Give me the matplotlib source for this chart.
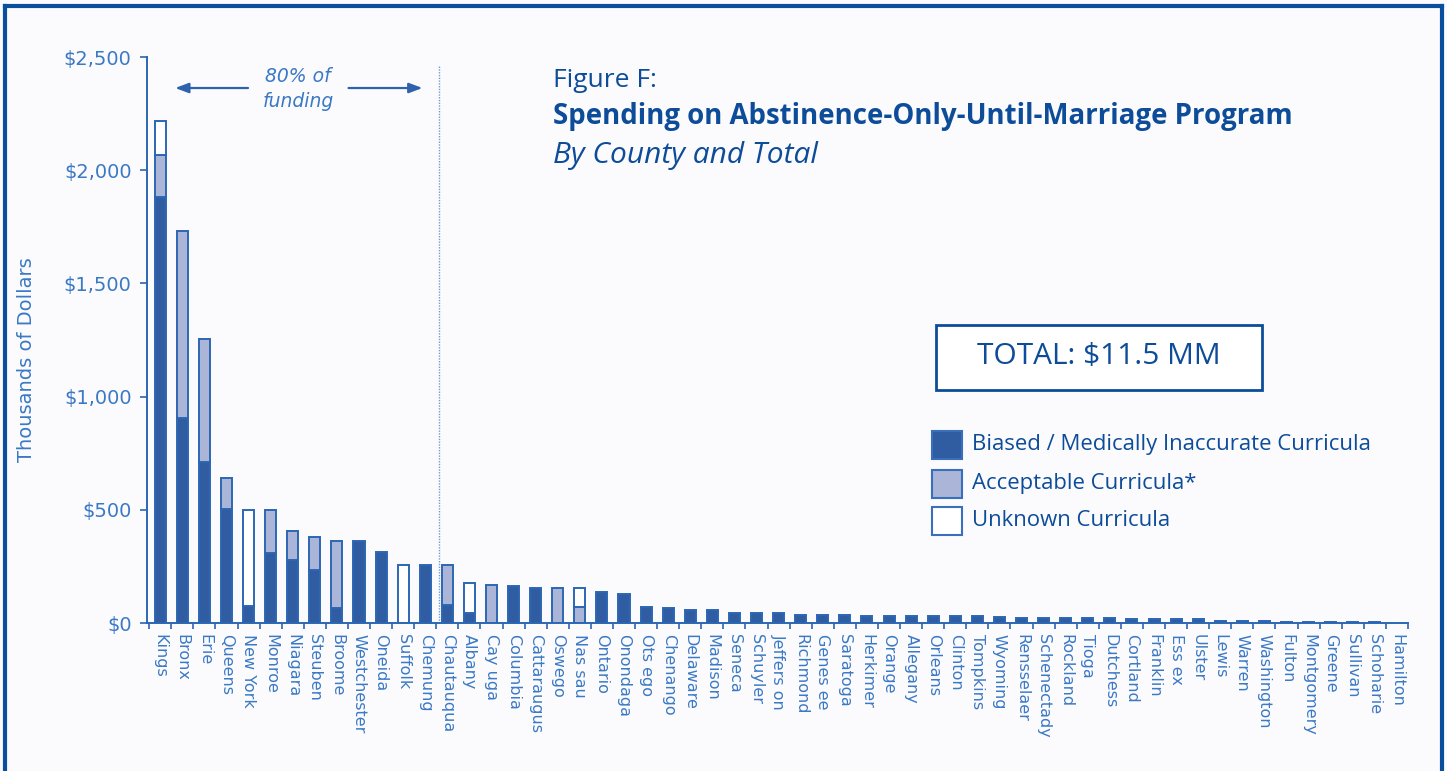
import matplotlib
matplotlib.use("Agg")
import matplotlib.pyplot as plt
from matplotlib.patches import Rectangle
from matplotlib.lines import Line2D
import numpy as np

counties = ["Kings", "Bronx", "Erie", "Queens", "New York", "Monroe", "Niagara", "Steuben",
            "Broome", "Westchester", "Oneida", "Suffolk", "Chemung", "Chautauqua", "Albany",
            "Cay uga", "Columbia", "Cattaraugus", "Oswego", "Nas sau", "Ontario", "Onondaga",
            "Ots ego", "Chenango", "Delaware", "Madison", "Seneca", "Schuyler", "Jeffers on",
            "Richmond", "Genes ee", "Saratoga", "Herkimer", "Orange", "Allegany", "Orleans",
            "Clinton", "Tompkins", "Wyoming", "Rensselaer", "Schenectady", "Rockland", "Tioga",
            "Dutchess", "Cortland", "Franklin", "Ess ex", "Ulster", "Lewis", "Warren",
            "Washington", "Fulton", "Montgomery", "Greene", "Sullivan", "Schoharie", "Hamilton"]

biased = [1880, 905, 713, 504, 77, 310, 277, 232, 65, 360, 315, 0, 258, 78, 44,
          0, 162, 155, 0, 0, 135, 130, 71, 65, 59, 59, 44, 44, 44,
          37, 37, 37, 29, 29, 29, 29, 29, 29, 25, 24, 24, 23, 22, 22,
          18, 17, 16, 16, 8, 7, 7, 6, 6, 5, 5, 4, 0]
acceptable = [187, 826, 541, 136, 0, 191, 128, 146, 295, 0, 0, 0, 0, 180, 0,
              169, 0, 0, 155, 71, 0, 0, 0, 0, 0, 0, 0, 0, 0,
              0, 0, 0, 0, 0, 0, 0, 0, 0, 0, 0, 0, 0, 0, 0,
              0, 0, 0, 0, 0, 0, 0, 0, 0, 0, 0, 0, 0]
unknown = [150, 0, 0, 0, 424, 0, 0, 0, 0, 0, 0, 258, 0, 0, 133,
           0, 0, 0, 0, 84, 0, 0, 0, 0, 0, 0, 0, 0, 0,
           0, 0, 0, 0, 0, 0, 0, 0, 0, 0, 0, 0, 0, 0, 0,
           0, 0, 0, 0, 0, 0, 0, 0, 0, 0, 0, 0, 0]

yticks = [0, 500, 1000, 1500, 2000, 2500]
ytick_labels = ["$0", "$500", "$1,000", "$1,500", "$2,000", "$2,500"]
legend_labels = ["Biased / Medically Inaccurate Curricula", "Acceptable Curricula*", "Unknown Curricula"]

DARK = "#305ca2"
LIGHT = "#aab5d8"
EDGE = "#2c66b3"
TICK_BLUE = "#3b79c4"
TITLE_BLUE = "#0d4c99"
BG = "#fbfbfe"

W, H = 1447, 771
fig = plt.figure(figsize=(W / 100, H / 100), dpi=100, facecolor=BG)


def fx(x):
    return x / W


def fy(y):
    return 1 - y / H


ax = fig.add_axes([fx(147), fy(623), fx(1408) - fx(147), fy(57) - fy(623)])
ax.set_facecolor(BG)

x = np.arange(len(counties))
b = np.array(biased, float)
a = np.array(acceptable, float)
u = np.array(unknown, float)
bw = 0.5


def lw(vals):
    return [1.4 if v > 0 else 0 for v in vals]


ax.bar(x, b, width=bw, color=DARK, edgecolor=EDGE, linewidth=lw(b))
ax.bar(x, a, width=bw, bottom=b, color=LIGHT, edgecolor=EDGE, linewidth=lw(a))
ax.bar(x, u, width=bw, bottom=b + a, color="white", edgecolor=EDGE, linewidth=lw(u))

ax.set_xlim(-0.6, 56.5)
ax.set_ylim(0, 2500)
for s in ["top", "right"]:
    ax.spines[s].set_visible(False)
for s in ["left", "bottom"]:
    ax.spines[s].set_color(EDGE)
    ax.spines[s].set_linewidth(1.4)

ax.set_yticks(yticks)
ax.set_yticklabels(ytick_labels)
ax.tick_params(axis="y", direction="out", length=5, width=1.2, color=EDGE,
               labelcolor=TICK_BLUE, labelsize=14, pad=6)
ax.set_xticks(x)
ax.set_xticklabels(counties, rotation=270, ha="center", va="top")
ax.tick_params(axis="x", which="major", length=0, labelcolor=TICK_BLUE, labelsize=11.5, pad=8)
ax.set_xticks(np.arange(-0.5, 57, 1), minor=True)
ax.tick_params(axis="x", which="minor", direction="out", length=4, width=1.2, color=EDGE)
ax.set_ylabel("Thousands of Dollars", color=TICK_BLUE, fontsize=14)
ax.yaxis.set_label_coords(-0.088, 0.465)

# 80% divider and arrows
ax.axvline(12.6, ymin=0, ymax=0.985, color="#6d9bd6", linestyle=(0, (1, 1)), linewidth=1)
ax.annotate("", xy=(0.55, 2363), xytext=(4.1, 2363),
            arrowprops=dict(arrowstyle="-|>,head_length=0.8,head_width=0.3", color="#2f62ad", lw=1.6))
ax.annotate("", xy=(12.0, 2363), xytext=(8.4, 2363),
            arrowprops=dict(arrowstyle="-|>,head_length=0.8,head_width=0.3", color="#2f62ad", lw=1.6))
ax.text(6.25, 2357, "80% of\nfunding", ha="center", va="center", style="italic",
        color=TICK_BLUE, fontsize=13.5, linespacing=1.4)

# titles
fig.text(fx(553), fy(87), "Figure F:", family="Open Sans", fontsize=19, color=TITLE_BLUE, va="baseline")
fig.text(fx(553), fy(124), "Spending on Abstinence-Only-Until-Marriage Program", family="Open Sans",
         fontweight="bold", fontsize=19.9, color=TITLE_BLUE, va="baseline")
fig.text(fx(553), fy(163), "By County and Total", family="Open Sans", style="italic",
         fontsize=21.5, color=TITLE_BLUE, va="baseline")

# total box
fig.add_artist(Rectangle((fx(936), fy(390)), fx(1262) - fx(936), fy(325) - fy(390),
                         transform=fig.transFigure, facecolor="white", edgecolor=TITLE_BLUE, linewidth=2))
fig.text(fx(1099), fy(357), "TOTAL: $11.5 MM", family="Open Sans", fontsize=21.5, fontweight="medium",
         color=TITLE_BLUE, ha="center", va="center")

# legend
leg_colors = [DARK, LIGHT, "white"]
leg_y = [445, 484, 521]
for c, lab, yy in zip(leg_colors, legend_labels, leg_y):
    fig.add_artist(Rectangle((fx(932), fy(yy + 14)), fx(962) - fx(932), fy(yy - 14) - fy(yy + 14),
                             transform=fig.transFigure, facecolor=c, edgecolor="#3a6fbb", linewidth=1.5))
    fig.text(fx(972), fy(yy), lab, family="Open Sans", fontsize=15.9, fontweight="medium",
             color=TITLE_BLUE, va="center")

# frame
fc = "#0a4f9e"
for seg in [((5, 5), (6, 771)), ((5, 1442), (6, 6)), ((1442, 1442), (6, 771))]:
    fig.add_artist(Line2D([fx(seg[0][0]), fx(seg[0][1])], [fy(seg[1][0]), fy(seg[1][1])],
                          transform=fig.transFigure, color=fc, linewidth=3))

fig.savefig("out.png", dpi=100, facecolor=BG)
